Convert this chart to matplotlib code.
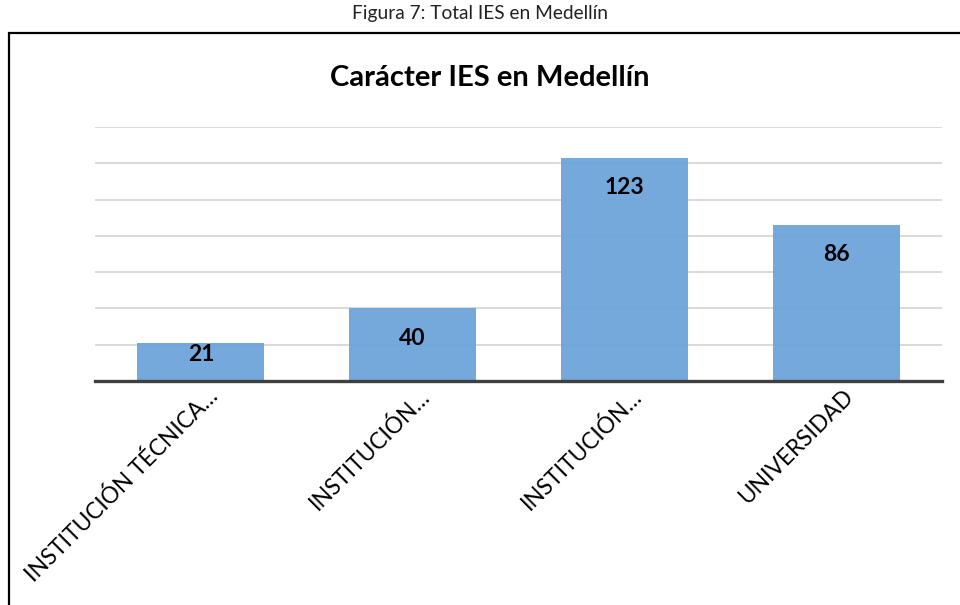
import matplotlib.pyplot as plt
from matplotlib.patches import Rectangle

plt.rcParams['font.family'] = ['Lato', 'DejaVu Sans']

# datos
categorias = ['INSTITUCIÓN TÉCNICA…', 'INSTITUCIÓN…', 'INSTITUCIÓN…', 'UNIVERSIDAD']
valores = [21, 40, 123, 86]

fig = plt.figure(figsize=(9.6, 6.05), dpi=100)

# marco negro alrededor del grafico
marco = Rectangle((9 / 960, -0.2), 1.2, 1 - 33 / 605 + 0.2, transform=fig.transFigure,
                  fill=False, edgecolor='black', linewidth=1.6)
fig.patches.append(marco)

fig.text(0.5, 1 - 13 / 605, 'Figura 7: Total IES en Medellín', ha='center', va='center',
         fontsize=13.8, color='#222222')

ax = fig.add_axes([95 / 960, 1 - 381 / 605, (942 - 95) / 960, (381 - 127) / 605])
ax.set_xlim(-0.5, len(categorias) - 0.5)
ax.set_ylim(0, 140)

ax.set_yticks(range(20, 141, 20))
ax.yaxis.grid(True, color='#d0d0d0', linewidth=1.1, zorder=1)
ax.set_axisbelow(True)

x = list(range(len(categorias)))
ax.bar(x, valores, width=0.6, color='#6aa3d9', alpha=0.93, zorder=2)

for s in ['top', 'right', 'left']:
    ax.spines[s].set_visible(False)
ax.spines['bottom'].set_color('#404040')
ax.spines['bottom'].set_linewidth(2.4)
ax.spines['bottom'].set_zorder(4)
ax.tick_params(left=False, bottom=False, labelleft=False, labelbottom=False)

# etiquetas de valores dentro de las barras
px_por_unidad = (381 - 127) / 140
for i, v in enumerate(valores):
    alto_px = v * px_por_unidad
    bajar = 30 if alto_px > 60 else 0.3 * alto_px
    ax.annotate(str(v), xy=(i, v), xytext=(0, -bajar * 0.72), textcoords='offset points',
                ha='center', va='center', fontsize=16.5, fontweight='bold', color='black',
                zorder=5)

# etiquetas del eje x rotadas
for i, c in enumerate(categorias):
    ax.annotate(c, xy=(i, 0), xytext=(13.5, -12), textcoords='offset points',
                rotation=45, rotation_mode='anchor', ha='right', va='baseline',
                fontsize=16.3, color='black', annotation_clip=False)

fig.text(490 / 960, 1 - 78 / 605, 'Carácter IES en Medellín', ha='center', va='center',
         fontsize=21, fontweight='bold', color='black')

fig.savefig('out.png', dpi=100, facecolor='white')
